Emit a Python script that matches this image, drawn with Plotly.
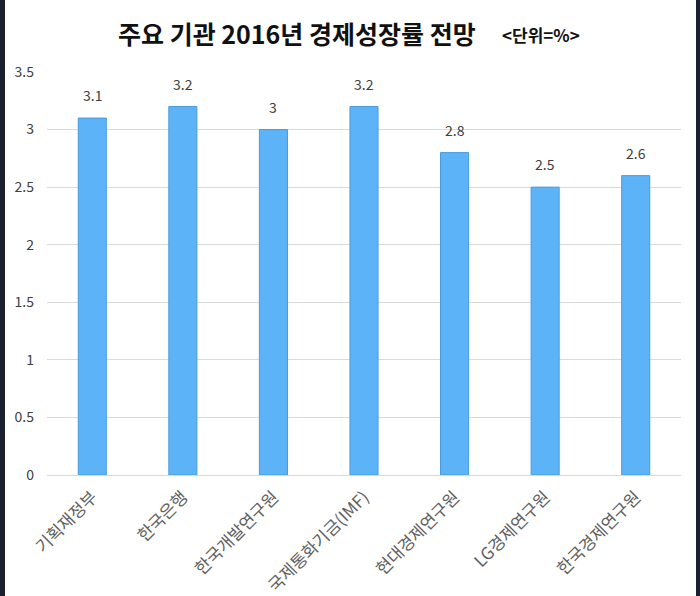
import plotly.graph_objects as go

categories = ["기획재정부", "한국은행", "한국개발연구원", "국제통화기금(IMF)",
              "현대경제연구원", "LG경제연구원", "한국경제연구원"]
values = [3.1, 3.2, 3.0, 3.2, 2.8, 2.5, 2.6]
value_labels = ["3.1", "3.2", "3", "3.2", "2.8", "2.5", "2.6"]
y_ticks = [0, 0.5, 1, 1.5, 2, 2.5, 3, 3.5]
y_tick_labels = ["0", "0.5", "1", "1.5", "2", "2.5", "3", "3.5"]

FONT = "Noto Sans CJK KR"
W, H = 700, 596
L, R, T, B = 47, 19, 72, 121
PW, PH = W - L - R, H - T - B

fig = go.Figure(go.Bar(
    x=categories, y=values,
    marker=dict(color="#5DB3F8", line=dict(color="#4A9BDB", width=1)),
    width=0.31, hoverinfo="x+y",
))

def px_x(p):
    return (p - L) / PW

def px_y(p):
    return 1 - (p - T) / PH

annotations = [
    dict(x=c, y=v, text=t, xref="x", yref="y", showarrow=False,
         yanchor="middle", yshift=23,
         font=dict(family=FONT, size=14, color="#404040"))
    for c, v, t in zip(categories, values, value_labels)
]
annotations += [
    dict(text="<b>주요 기관 2016년 경제성장률 전망</b>", xref="paper", yref="paper",
         x=px_x(297), y=px_y(33), xanchor="center", yanchor="middle", showarrow=False,
         font=dict(family=FONT, size=25, color="#111111")),
    dict(text="<b>&lt;단위=%&gt;</b>", xref="paper", yref="paper",
         x=px_x(541), y=px_y(34), xanchor="center", yanchor="middle", showarrow=False,
         font=dict(family=FONT, size=17, color="#111111")),
]

fig.update_layout(
    width=W, height=H,
    margin=dict(l=L, r=R, t=T, b=B, autoexpand=False),
    paper_bgcolor="white", plot_bgcolor="white",
    showlegend=False,
    font=dict(family=FONT, color="#595959"),
    xaxis=dict(tickangle=-45, tickfont=dict(family=FONT, size=17, color="#606060"),
               showgrid=False, showline=False, ticks="", ticklabelstandoff=8,
               automargin=False),
    yaxis=dict(range=[0, 3.5], tickvals=y_ticks, ticktext=y_tick_labels,
               tickfont=dict(family=FONT, size=14, color="#404040"),
               showgrid=True, gridcolor="#D9D9D9", gridwidth=1,
               zeroline=True, zerolinecolor="#D9D9D9", zerolinewidth=1,
               ticklabelstandoff=12, showline=False, automargin=False),
    annotations=annotations,
    shapes=[
        dict(type="rect", xref="paper", yref="paper", x0=px_x(0), x1=px_x(5),
             y0=px_y(H), y1=px_y(0), fillcolor="#1B2030", line=dict(width=0), layer="above"),
        dict(type="rect", xref="paper", yref="paper", x0=px_x(696), x1=px_x(W),
             y0=px_y(H), y1=px_y(0), fillcolor="#1B2030", line=dict(width=0), layer="above"),
    ],
    bargap=0.69,
)

fig.write_html("out.html", post_script="document.body.style.margin='0px';",
               config={"displayModeBar": False})
